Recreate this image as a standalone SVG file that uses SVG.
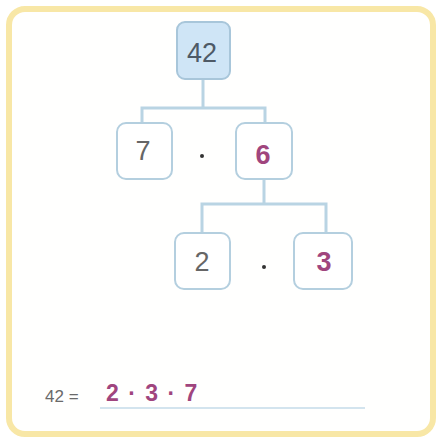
<svg xmlns="http://www.w3.org/2000/svg" width="440" height="440" viewBox="0 0 440 440">
<style>
.box{fill:#ffffff;stroke:#b4cfdf;stroke-width:2}
.root{fill:#cfe5f6;stroke:#a8c6da;stroke-width:2}
.num{font-family:"Liberation Sans",Arial,sans-serif;font-size:27px;text-anchor:middle}
.g{fill:#666666}
.p{fill:#a0457e;font-weight:bold}
.conn{fill:none;stroke:#b9d4e3;stroke-width:3}
.dot{fill:#333}
</style>
<rect width="440" height="440" fill="#ffffff"/>
<rect x="9" y="9" width="424" height="425" rx="16" fill="#fffffe" stroke="#f8e7a6" stroke-width="6"/>
<g id="connectors">
<path class="conn" d="M203 80 V108 M142 122 V108 H265 V122"/>
<path class="conn" d="M264 180 V204 M202 232 V204 H326 V232"/>
</g>
<g id="n42"><rect class="root" x="177" y="22" width="53" height="57" rx="8"/><text class="num" x="202" y="62" font-size="25" fill="#4e5a66">42</text></g>
<g id="n7"><rect class="box" x="117" y="123" width="55" height="56" rx="9"/><text class="num g" x="143" y="160">7</text></g>
<g id="n6"><rect class="box" x="236" y="123" width="56" height="56" rx="9"/><text class="num p" x="263" y="164">6</text></g>
<g id="n2"><rect class="box" x="175" y="233" width="55" height="56" rx="9"/><text class="num g" x="202" y="271">2</text></g>
<g id="n3"><rect class="box" x="294" y="233" width="58" height="56" rx="9"/><text class="num p" x="324" y="271">3</text></g>
<circle class="dot" cx="202" cy="156" r="2"/>
<circle class="dot" cx="264" cy="267" r="2"/>
<line x1="100" y1="408" x2="365" y2="408" stroke="#d3e4ee" stroke-width="2"/>
<text x="45" y="402" font-family="Liberation Sans,Arial,sans-serif" font-size="17" fill="#6a6a6a">42 =</text>
<text x="106" y="401" font-family="Liberation Sans,Arial,sans-serif" font-size="23" font-weight="bold" letter-spacing="1.5" fill="#a0457e">2 · 3 · 7</text>
</svg>
